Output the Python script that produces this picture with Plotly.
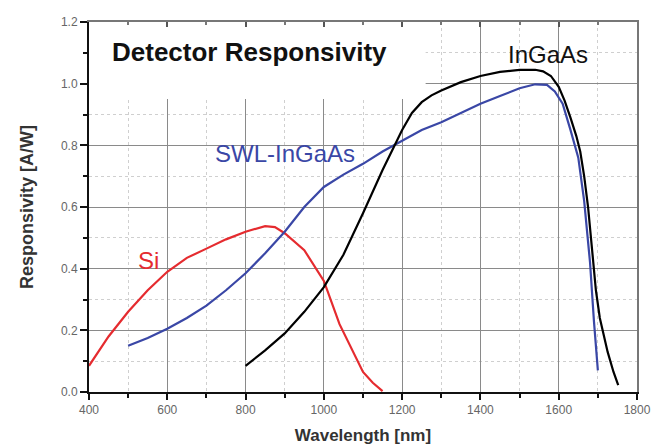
import plotly.graph_objects as go

# Si detector
si_wl = [400, 450, 500, 550, 600, 650, 700, 750, 800, 850, 875, 900, 950, 1000, 1040, 1070, 1100, 1125, 1150]
si_resp = [0.085, 0.18, 0.26, 0.33, 0.39, 0.435, 0.465, 0.495, 0.52, 0.538, 0.535, 0.515, 0.46, 0.36, 0.22, 0.14, 0.065, 0.03, 0.003]

# SWL-InGaAs detector
swl_wl = [500, 550, 600, 650, 700, 750, 800, 850, 900, 950, 1000, 1050, 1100, 1150, 1200, 1250, 1300, 1350,
          1400, 1450, 1500, 1540, 1570, 1590, 1610, 1630, 1650, 1665, 1680, 1690, 1700]
swl_resp = [0.15, 0.175, 0.205, 0.24, 0.28, 0.33, 0.385, 0.45, 0.52, 0.6, 0.665, 0.705, 0.74, 0.78, 0.815, 0.85,
            0.875, 0.905, 0.935, 0.96, 0.985, 0.998, 0.996, 0.975, 0.935, 0.85, 0.76, 0.62, 0.42, 0.23, 0.07]

# InGaAs detector
ing_wl = [800, 850, 900, 950, 1000, 1050, 1100, 1150, 1200, 1225, 1250, 1275, 1300, 1350, 1400, 1450, 1500,
          1540, 1560, 1580, 1600, 1615, 1630, 1645, 1655, 1665, 1675, 1685, 1695, 1705, 1715, 1725, 1740, 1752]
ing_resp = [0.085, 0.135, 0.19, 0.26, 0.34, 0.445, 0.58, 0.72, 0.85, 0.905, 0.94, 0.962, 0.978, 1.005, 1.025,
            1.038, 1.045, 1.045, 1.04, 1.025, 0.99, 0.945, 0.89, 0.83, 0.78, 0.7, 0.6, 0.47, 0.33, 0.24, 0.18,
            0.13, 0.065, 0.022]

RED = "#e52b2f"
BLUE = "#3a47a6"
BLACK = "#000000"
FONT = "Liberation Sans, Arial, sans-serif"

fig = go.Figure()
fig.add_trace(go.Scatter(x=si_wl, y=si_resp, mode="lines", line=dict(color=RED, width=2.2), name="Si"))
fig.add_trace(go.Scatter(x=swl_wl, y=swl_resp, mode="lines", line=dict(color=BLUE, width=2.2), name="SWL-InGaAs"))
fig.add_trace(go.Scatter(x=ing_wl, y=ing_resp, mode="lines", line=dict(color=BLACK, width=2.2), name="InGaAs"))
# empty trace to activate the top/right frame axes
fig.add_trace(go.Scatter(x=[], y=[], xaxis="x2", yaxis="y2", showlegend=False, hoverinfo="skip"))

# white box behind title hiding gridlines
fig.add_shape(type="rect", xref="x", yref="y", x0=400, x1=1260, y0=0.95, y1=1.2,
              fillcolor="white", line=dict(width=0), layer="between")

fig.add_annotation(x=0.038, y=0.918, xref="paper", yref="paper", xanchor="left", yanchor="middle",
                   text="<b>Detector Responsivity</b>", showarrow=False,
                   font=dict(family=FONT, size=26, color="#111"))
fig.add_annotation(x=1572, y=1.093, xref="x", yref="y", text="InGaAs", showarrow=False,
                   font=dict(family=FONT, size=24, color="#111"))
fig.add_annotation(x=900, y=0.775, xref="x", yref="y", text="SWL-InGaAs", showarrow=False,
                   font=dict(family=FONT, size=24, color=BLUE))
fig.add_annotation(x=552, y=0.428, xref="x", yref="y", text="Si", showarrow=False,
                   font=dict(family=FONT, size=24, color=RED))

fig.update_layout(
    width=656, height=438,
    margin=dict(l=81, r=27, t=14, b=54),
    paper_bgcolor="white", plot_bgcolor="white",
    showlegend=False,
    font=dict(family=FONT),
    xaxis=dict(
        range=[400, 1800], dtick=200, tick0=400, automargin=False,
        showgrid=True, gridcolor="#8a8a8a", gridwidth=1,
        showline=True, linecolor="#111", linewidth=2, mirror=False,
        ticks="outside", ticklen=6, tickcolor="#111", tickwidth=1.5,
        tickfont=dict(family=FONT, size=12, color="#666"),
        minor=dict(dtick=100, showgrid=True, gridcolor="#cfcfcf", griddash="dot", gridwidth=1,
                   ticks="outside", ticklen=4, tickcolor="#111"),
        title=dict(text="<b>Wavelength [nm]</b>", font=dict(family=FONT, size=17, color="#333"), standoff=13),
        zeroline=False,
    ),
    yaxis=dict(
        range=[0, 1.2], dtick=0.2, tick0=0, tickformat=".1f", automargin=False,
        showgrid=True, gridcolor="#8a8a8a", gridwidth=1,
        showline=True, linecolor="#111", linewidth=2, mirror=False,
        ticks="outside", ticklen=7, tickcolor="#111", tickwidth=1.5,
        tickfont=dict(family=FONT, size=12, color="#666"),
        minor=dict(dtick=0.1, showgrid=True, gridcolor="#cfcfcf", griddash="dot", gridwidth=1,
                   ticks="outside", ticklen=4, tickcolor="#111"),
        title=dict(text="<b>Responsivity [A/W]</b>", font=dict(family=FONT, size=18, color="#333"), standoff=23),
        zeroline=False,
    ),
    xaxis2=dict(
        overlaying="x", side="top", anchor="y2", range=[400, 1800], dtick=200, tick0=400,
        showgrid=False, showticklabels=False, zeroline=False, automargin=False,
        showline=True, linecolor="#777", linewidth=2,
        ticks="inside", ticklen=5, tickcolor="#555", tickwidth=1.5,
        minor=dict(dtick=100, ticks="inside", ticklen=3, tickcolor="#777"),
    ),
    yaxis2=dict(
        overlaying="y", side="right", anchor="x2", range=[0, 1.2],
        showgrid=False, showticklabels=False, zeroline=False, automargin=False,
        showline=True, linecolor="#777", linewidth=2, ticks="",
    ),
)

fig.write_html("out.html")
